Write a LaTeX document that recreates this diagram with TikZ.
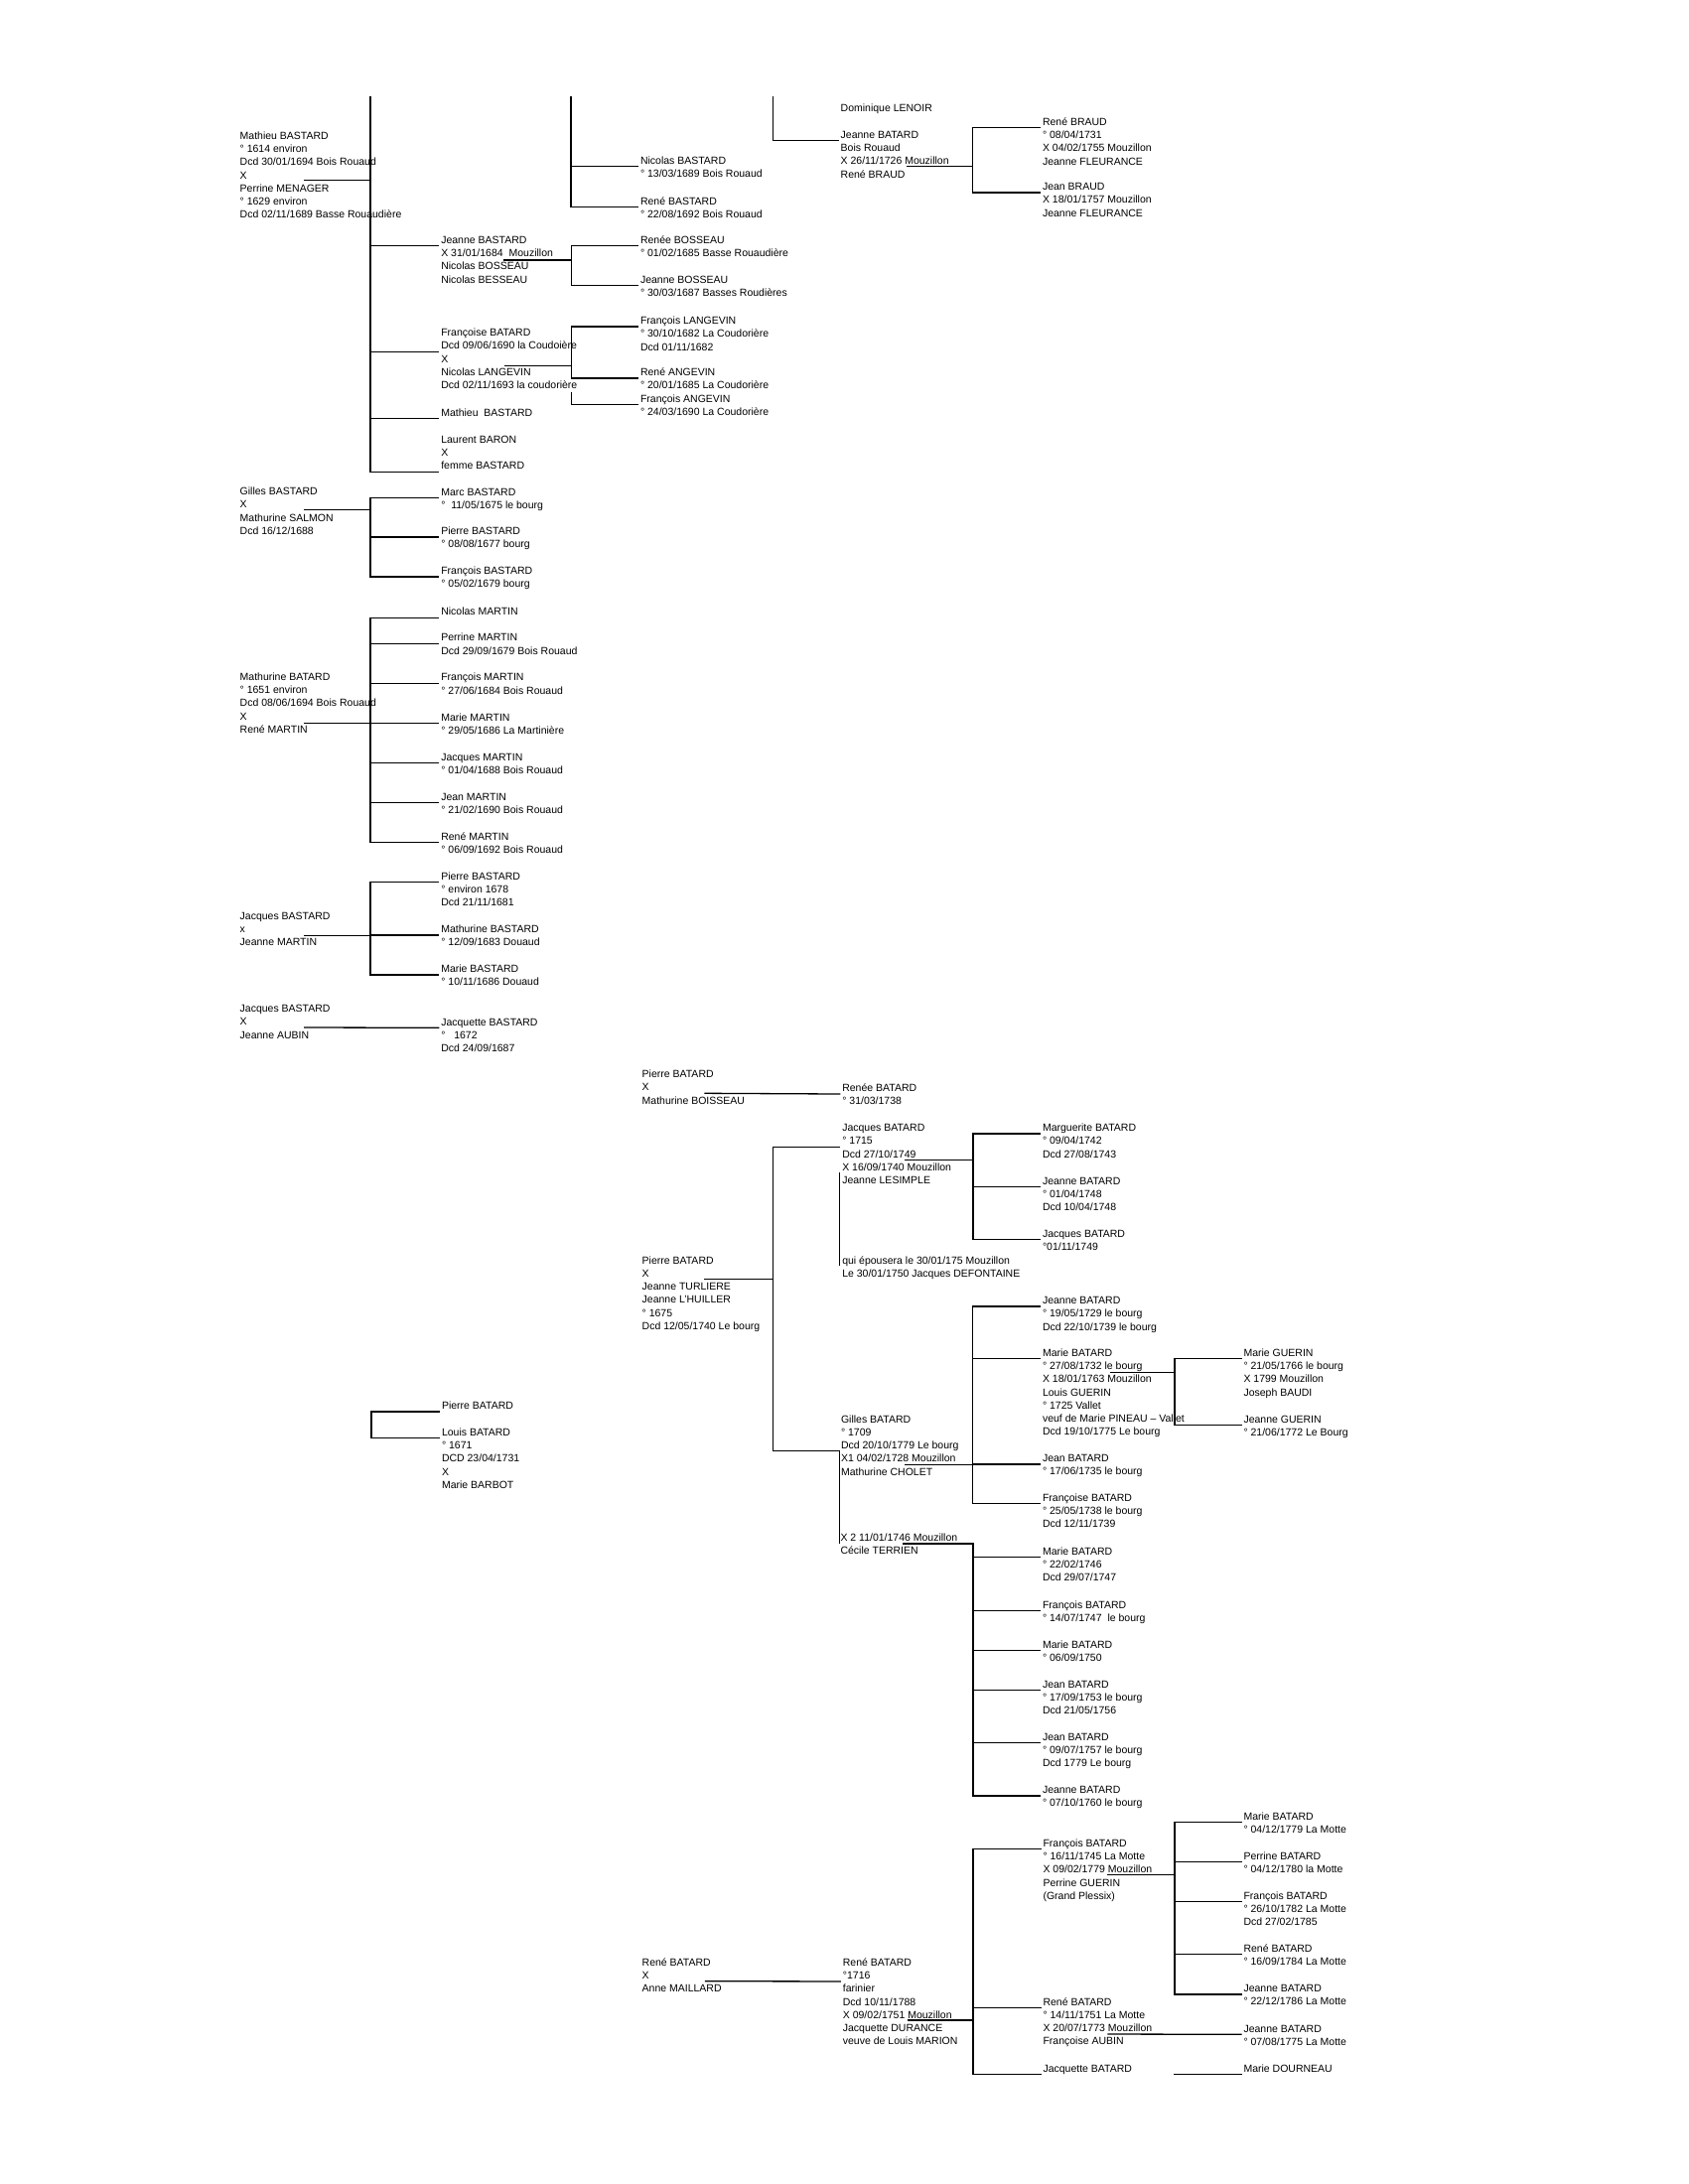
\documentclass[tikz,border=0pt]{standalone}
\usepackage{fontspec}
\setmainfont{Liberation Sans}
\tikzset{
  txt/.style={anchor=north west,inner sep=0pt,outer sep=0pt,align=left,font=\fontsize{10.5}{13.25}\selectfont},
  ln/.style={line width=1.3pt,line cap=rect},
  thin/.style={line width=0.8pt}
}
% person node: [link line index]{name}{x}{centre y of first line}{text}
\newcommand\pers[5][1]{%
  \node[txt] (#2) at ({#3},{#4-5.3}) {\rule{0pt}{9pt}#5};
  \coordinate (#2-l) at ({#3-2.6},{#4+6+(#1-1)*13.25});}
% horizontal branches from a bar to children
\newcommand\kids[2]{\foreach \k in {#2}{\draw[ln] (\k-l -| #1) -- (\k-l);}}
\begin{document}
\begin{tikzpicture}[x=1pt,y=-1pt]
\fill[white] (0,0) rectangle (1700,2200);
\useasboundingbox (0,0) rectangle (1700,2200);

% ---------------- Region A ----------------
\pers{A1}{241.7}{136.7}{Mathieu BASTARD\\° 1614 environ\\Dcd 30/01/1694 Bois Rouaud\\X\\Perrine MENAGER\\° 1629 environ\\Dcd 02/11/1689 Basse Rouaudière}
\coordinate (A1-c) at (306.7,181.7);
\pers{A2}{444.3}{241.7}{Jeanne BASTARD\\X 31/01/1684\ \ Mouzillon\\Nicolas BOSSEAU\\Nicolas BESSEAU}
\coordinate (A2-c) at (507.7,262);
\pers[2]{A3}{444.3}{335}{Françoise BATARD\\Dcd 09/06/1690 la Coudoière\\X\\Nicolas LANGEVIN\\Dcd 02/11/1693 la coudorière}
\coordinate (A3-c) at (508.3,368.3);
\pers{A4}{444.3}{415.7}{Mathieu~ BASTARD}
\pers[3]{A5}{444.3}{442.7}{Laurent BARON\\X\\femme BASTARD}

\pers{A6}{645}{161.7}{Nicolas BASTARD\\° 13/03/1689 Bois Rouaud}
\pers{A7}{645}{202.3}{René BASTARD\\° 22/08/1692 Bois Rouaud}
\pers{A8}{645}{241.7}{Renée BOSSEAU\\° 01/02/1685 Basse Rouaudière}
\pers{A9}{645}{281.5}{Jeanne BOSSEAU\\° 30/03/1687 Basses Roudières}
\pers{A10}{645}{323}{François LANGEVIN\\° 30/10/1682 La Coudorière\\Dcd 01/11/1682}
\pers{A11}{645}{375}{René ANGEVIN\\° 20/01/1685 La Coudorière}
\pers{A12}{645}{401.5}{François ANGEVIN\\° 24/03/1690 La Coudorière}

\pers{A13a}{846.7}{109}{Dominique LENOIR}
\pers{A13}{846.7}{135.7}{Jeanne BATARD\\Bois Rouaud\\X 26/11/1726 Mouzillon\\René BRAUD}
\coordinate (A13-c) at (913.3,167.7);
\pers{A14}{1050}{122.7}{René BRAUD\\° 08/04/1731\\X 04/02/1755 Mouzillon\\Jeanne FLEURANCE}
\pers{A15}{1050}{188}{Jean BRAUD\\X 18/01/1757 Mouzillon\\Jeanne FLEURANCE}

\coordinate (bA) at (373,98);
\coordinate (bB) at (575,98);
\coordinate (bC) at (778.3,98);
\coordinate (bD) at (575.7,0);
\coordinate (bE) at (575.7,396);
\coordinate (bF) at (979.3,0);

\draw[ln] (bA) -- (A5-l -| bA);
\kids{bA}{A2,A3,A4,A5}
\draw[ln] (A1-c) -- (A1-c -| bA);
\draw[ln] (bB) -- (A7-l -| bB);
\kids{bB}{A6,A7}
\draw[ln] (bC) -- (A13-l -| bC);
\kids{bC}{A13}
\draw[ln] (A8-l -| bD) -- (A9-l -| bD);
\kids{bD}{A8,A9}
\draw[ln] (A2-c) -- (A2-c -| bD);
\draw[ln] (A10-l -| bD) -- (A11-l -| bD);
\draw[ln] (bE) -- (A12-l -| bE);
\kids{bD}{A10,A11,A12}
\draw[ln] (A3-c) -- (A3-c -| bD);
\draw[ln] (A14-l -| bF) -- (A15-l -| bF);
\kids{bF}{A14,A15}
\draw[ln] (A13-c) -- (A13-c -| bF);

% ---------------- Region B ----------------
\coordinate (bG) at (373,0);
\pers{B1}{241.7}{495}{Gilles BASTARD\\X\\Mathurine SALMON\\Dcd 16/12/1688}
\coordinate (B1-c) at (306.7,513.3);
\pers{B2}{444.3}{495.5}{Marc BASTARD\\°\ \ 11/05/1675 le bourg}
\pers{B3}{444.3}{535}{Pierre BASTARD\\° 08/08/1677 bourg}
\pers{B4}{444.3}{575}{François BASTARD\\° 05/02/1679 bourg}
\draw[ln] (B2-l -| bG) -- (B4-l -| bG);
\kids{bG}{B2,B3,B4}
\draw[ln] (B1-c) -- (B1-c -| bG);

\pers{B12}{241.7}{681.7}{Mathurine BATARD\\° 1651 environ\\Dcd 08/06/1694 Bois Rouaud\\X\\René MARTIN}
\coordinate (B12-c) at (306.7,728.3);
\pers{B5}{444.3}{616.2}{Nicolas MARTIN}
\pers{B6}{444.3}{642.2}{Perrine MARTIN\\Dcd 29/09/1679 Bois Rouaud}
\pers{B7}{444.3}{682.2}{François MARTIN\\° 27/06/1684 Bois Rouaud}
\pers{B8}{444.3}{722.3}{Marie MARTIN\\° 29/05/1686 La Martinière}
\pers{B9}{444.3}{762.3}{Jacques MARTIN\\° 01/04/1688 Bois Rouaud}
\pers{B10}{444.3}{802.3}{Jean MARTIN\\° 21/02/1690 Bois Rouaud}
\pers{B11}{444.3}{842.3}{René MARTIN\\° 06/09/1692 Bois Rouaud}
\draw[ln] (B5-l -| bG) -- (B11-l -| bG);
\kids{bG}{B5,B6,B7,B8,B9,B10,B11}
\draw[ln] (B12-c) -- (B12-c -| bG);

\pers{B16}{241.7}{922.7}{Jacques BASTARD\\x\\Jeanne MARTIN}
\coordinate (B16-c) at (306.7,942.3);
\pers{B13}{444.3}{882.3}{Pierre BASTARD\\° environ 1678\\Dcd 21/11/1681}
\pers{B14}{444.3}{936}{Mathurine BASTARD\\° 12/09/1683 Douaud}
\pers{B15}{444.3}{976}{Marie BASTARD\\° 10/11/1686 Douaud}
\draw[ln] (B13-l -| bG) -- (B15-l -| bG);
\kids{bG}{B13,B14,B15}
\draw[ln] (B16-c) -- (B16-c -| bG);

\pers{B17}{241.7}{1016}{Jacques BASTARD\\X\\Jeanne AUBIN}
\coordinate (B17-c) at (306.7,1035);
\pers{B18}{444.3}{1029.3}{Jacquette BASTARD\\°\ \ \ 1672\\Dcd 24/09/1687}
\draw[ln] (B17-c) -- (B18-l);

\coordinate (bH) at (374,0);
\pers{B19}{445}{1416}{Pierre BATARD}
\pers{B20}{445}{1442.7}{Louis BATARD\\° 1671\\DCD 23/04/1731\\X\\Marie BARBOT}
\draw[ln] (B19-l -| bH) -- (B20-l -| bH);
\kids{bH}{B19,B20}

% ---------------- Region C ----------------
\coordinate (bP) at (778.3,0);
\coordinate (bJ) at (980,0);
\pers{C1}{646.7}{1082}{Pierre BATARD\\X\\Mathurine BOISSEAU}
\coordinate (C1-c) at (710,1101.3);
\pers{C2}{848.3}{1096}{Renée BATARD\\° 31/03/1738}
\draw[ln] (C1-c) -- (C2-l);

\pers[2]{C3}{848.3}{1136}{Jacques BATARD\\° 1715\\Dcd 27/10/1749\\X 16/09/1740 Mouzillon\\Jeanne LESIMPLE}
\coordinate (C3-c) at (911.7,1168.7);
\pers{C5}{848.3}{1269.3}{qui épousera le 30/01/175 Mouzillon\\Le 30/01/1750 Jacques DEFONTAINE}
\coordinate (t1a) at (845,1181);
\coordinate (t1b) at (845,1275.3);
\draw[thin] (t1a) -- (t1b);
\pers{C4}{646.7}{1269.3}{Pierre BATARD\\X\\Jeanne TURLIERE\\Jeanne L'HUILLER\\° 1675\\Dcd 12/05/1740 Le bourg}
\coordinate (C4-c) at (710,1288.7);
\pers{C6}{1050}{1136}{Marguerite BATARD\\° 09/04/1742\\Dcd 27/08/1743}
\pers{C7}{1050}{1189.5}{Jeanne BATARD\\° 01/04/1748\\Dcd 10/04/1748}
\pers{C8}{1050}{1242.5}{Jacques BATARD\\°01/11/1749}
\draw[ln] (C6-l -| bJ) -- (C8-l -| bJ);
\kids{bJ}{C6,C7,C8}
\draw[ln] (C3-c) -- (C3-c -| bJ);

\pers[3]{C9}{847}{1429.3}{Gilles BATARD\\° 1709\\Dcd 20/10/1779 Le bourg\\X1 04/02/1728 Mouzillon\\Mathurine CHOLET}
\coordinate (C9-c) at (912,1475.7);
\draw[ln] (C3-l -| bP) -- (C9-l -| bP);
\kids{bP}{C3,C9}
\draw[ln] (C4-c) -- (C4-c -| bP);

\pers{C10}{846.5}{1548.3}{X 2 11/01/1746 Mouzillon\\Cécile TERRIEN}
\coordinate (C10-c) at (910,1555);
\coordinate (t2a) at (845,1461);
\coordinate (t2b) at (845,1555);
\draw[thin] (t2a) -- (t2b);

% ---------------- Region D ----------------
\coordinate (bK) at (979.3,0);
\coordinate (bL) at (1182.9,0);
\pers{D7}{1050}{1310}{Jeanne BATARD\\° 19/05/1729 le bourg\\Dcd 22/10/1739 le bourg}
\pers{D8}{1050}{1362.7}{Marie BATARD\\° 27/08/1732 le bourg\\X 18/01/1763 Mouzillon\\Louis GUERIN\\° 1725 Vallet\\veuf de Marie PINEAU -- Vallet\\Dcd 19/10/1775 Le bourg}
\coordinate (D8-c) at (1118.6,1382.3);
\pers{D9}{1252.5}{1362.7}{Marie GUERIN\\° 21/05/1766 le bourg\\X 1799 Mouzillon\\Joseph BAUDI}
\pers{D10}{1252.5}{1429.3}{Jeanne GUERIN\\° 21/06/1772 Le Bourg}
\pers{D11}{1050}{1469}{Jean BATARD\\° 17/06/1735 le bourg}
\pers{D12}{1050}{1508.3}{Françoise BATARD\\° 25/05/1738 le bourg\\Dcd 12/11/1739}
\draw[ln] (D7-l -| bK) -- (D12-l -| bK);
\kids{bK}{D7,D8,D11,D12}
\draw[ln] (C9-c) -- (C9-c -| bK);
\draw[ln] (D9-l -| bL) -- (D10-l -| bL);
\kids{bL}{D9,D10}
\draw[ln] (D8-c) -- (D8-c -| bL);

\pers{D1}{1050}{1562.7}{Marie BATARD\\° 22/02/1746\\Dcd 29/07/1747}
\pers{D2}{1050}{1616.7}{François BATARD\\° 14/07/1747\ \ le bourg}
\pers{D3}{1050}{1656.7}{Marie BATARD\\° 06/09/1750}
\pers{D4}{1050}{1696.5}{Jean BATARD\\° 17/09/1753 le bourg\\Dcd 21/05/1756}
\pers{D5}{1050}{1749.3}{Jean BATARD\\° 09/07/1757 le bourg\\Dcd 1779 Le bourg}
\pers{D6}{1050}{1803}{Jeanne BATARD\\° 07/10/1760 le bourg}
\draw[ln] (C10-c) -- (C10-c -| bJ) -- (D6-l -| bJ);
\kids{bJ}{D1,D2,D3,D4,D5,D6}

% ---------------- Region E ----------------
\coordinate (bM) at (980,0);
\coordinate (bN) at (1183,0);
\pers{E1}{646.7}{1976.7}{René BATARD\\X\\Anne MAILLARD}
\coordinate (E1-c) at (710.5,1995.7);
\pers[2]{E2}{848.9}{1976.7}{René BATARD\\°1716\\farinier\\Dcd 10/11/1788\\X 09/02/1751 Mouzillon\\Jacquette DURANCE\\veuve de Louis MARION}
\coordinate (E2-c) at (915,2035);
\draw[ln] (E1-c) -- (E2-l);

\pers{E3}{1050.5}{1856.7}{François BATARD\\° 16/11/1745 La Motte\\X 09/02/1779 Mouzillon\\Perrine GUERIN\\(Grand Plessix)}
\coordinate (E3-c) at (1116,1888.3);
\pers{E9}{1050.5}{2016.3}{René BATARD\\° 14/11/1751 La Motte\\X 20/07/1773 Mouzillon\\Françoise AUBIN}
\coordinate (E9-c) at (1116,2049);
\pers{E11}{1050.5}{2083.3}{Jacquette BATARD}
\draw[ln] (E3-l -| bM) -- (E11-l -| bM);
\kids{bM}{E3,E9,E11}
\draw[ln] (E2-c) -- (E2-c -| bM);

\pers{E4}{1252.5}{1829.3}{Marie BATARD\\° 04/12/1779 La Motte}
\pers{E5}{1252.5}{1869.3}{Perrine BATARD\\° 04/12/1780 la Motte}
\pers{E6}{1252.5}{1909.3}{François BATARD\\° 26/10/1782 La Motte\\Dcd 27/02/1785}
\pers{E7}{1252.5}{1962.7}{René BATARD\\° 16/09/1784 La Motte}
\pers{E8}{1252.5}{2003}{Jeanne BATARD\\° 22/12/1786 La Motte}
\draw[ln] (E4-l -| bN) -- (E8-l -| bN);
\kids{bN}{E4,E5,E6,E7,E8}
\draw[ln] (E3-c) -- (E3-c -| bN);

\pers{E10}{1252.5}{2043.3}{Jeanne BATARD\\° 07/08/1775 La Motte}
\draw[ln] (E9-c) -- (E10-l);
\pers{E12}{1252.5}{2083.3}{Marie DOURNEAU}
\coordinate (E12-f) at (1183,2089.3);
\draw[ln] (E12-f) -- (E12-l);
\end{tikzpicture}
\end{document}
